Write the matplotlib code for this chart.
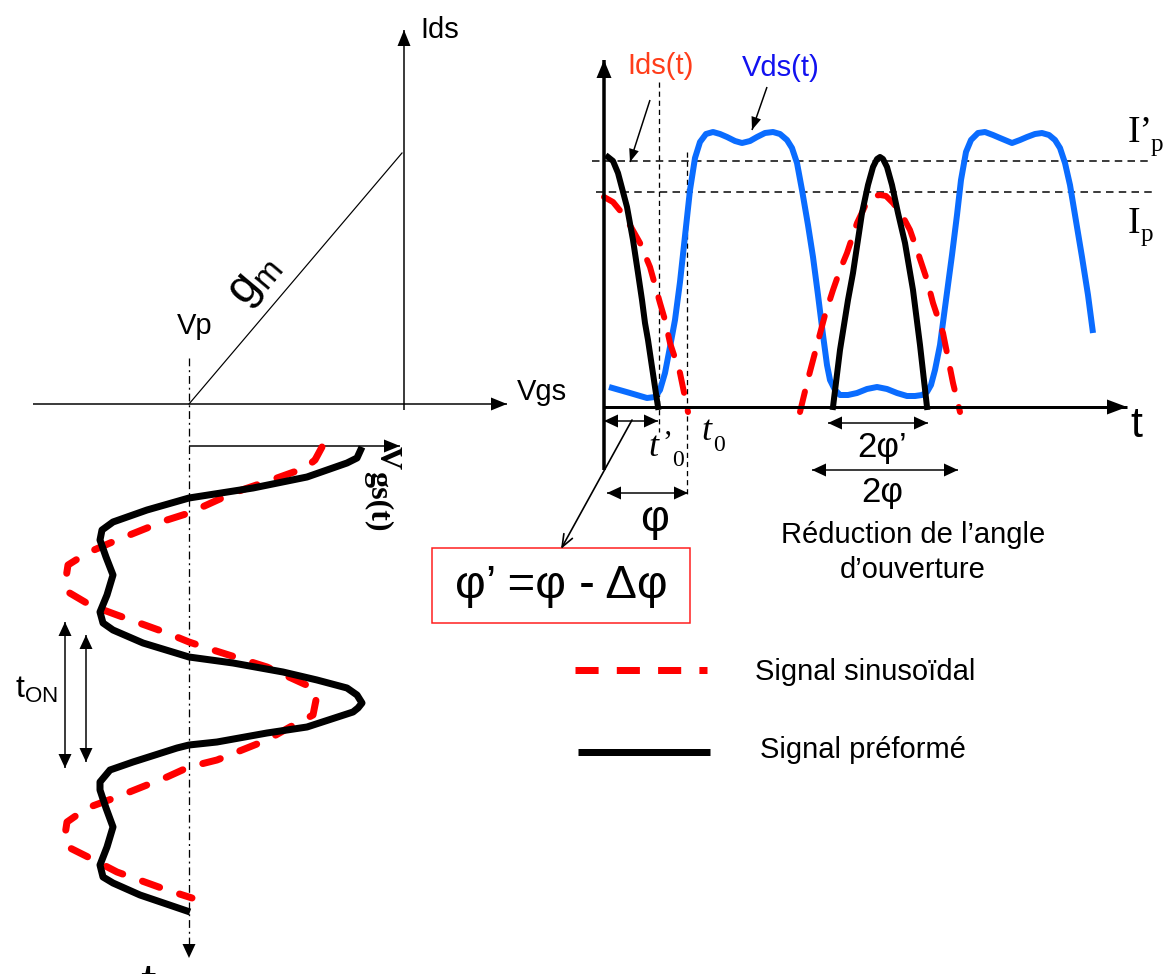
import matplotlib.pyplot as plt
import numpy as np

plt.rcParams['font.family'] = ['Liberation Sans', 'DejaVu Sans']
plt.rcParams['mathtext.fontset'] = 'custom'
plt.rcParams['mathtext.rm'] = 'Liberation Sans'
plt.rcParams['mathtext.it'] = 'Liberation Sans:italic'

# ---- left panel: Vgs(t), time running downwards (pixel coords of the picture)
vgs_pre_x = [362, 357, 347, 307, 253, 189, 147, 113, 102, 100, 106, 113, 107, 100, 103, 113, 143, 189,
             233, 283, 317, 347, 357, 362, 358, 353, 307, 267, 217, 189, 177, 133, 110, 100, 100, 106,
             113, 107, 100, 103, 113, 140, 190]
vgs_pre_y = [447, 458, 463, 477, 488, 498, 510, 522, 530, 540, 557, 575, 595, 612, 623, 630, 643, 657,
             663, 672, 680, 688, 695, 703, 708, 712, 727, 733, 742, 745, 748, 762, 770, 782, 790, 808,
             827, 847, 865, 877, 883, 895, 912]
vgs_sin_x = [322, 315, 305, 277, 233, 189, 167, 117, 87, 68, 66, 68, 90, 117, 167, 189, 213, 267, 313,
             316, 313, 290, 267, 217, 189, 167, 117, 87, 67, 65, 68, 90, 117, 167, 192]
vgs_sin_y = [447, 460, 468, 478, 493, 513, 520, 540, 553, 565, 578, 592, 605, 615, 633, 642, 650, 667, 688,
             700, 715, 727, 740, 760, 767, 777, 797, 808, 822, 835, 847, 858, 872, 890, 898]

# ---- right panel: Ids(t) preformed / sinusoidal, Vds(t)
ids_pre_a_x = [608, 613, 618, 627, 633, 638, 642, 645, 648, 652, 658]
ids_pre_a_y = [157, 161, 173, 207, 240, 273, 300, 323, 340, 367, 407]
ids_pre_b_x = [833, 840, 848, 853, 862, 868, 873, 877, 880, 883, 887, 892, 898, 905, 913, 920, 927]
ids_pre_b_y = [407, 350, 300, 273, 213, 185, 167, 159, 157, 159, 167, 185, 213, 243, 290, 345, 407]
ids_sin_a_x = [604, 613, 622, 631, 640, 650, 660, 665, 670, 680, 688]
ids_sin_a_y = [197, 202, 213, 227, 243, 267, 303, 320, 343, 373, 412]
ids_sin_b_x = [800, 807, 817, 825, 833, 840, 847, 857, 867, 874, 880, 886, 893, 902, 910, 918, 927,
               933, 943, 953, 960]
ids_sin_b_y = [412, 383, 345, 315, 290, 270, 253, 223, 202, 196, 195, 196, 203, 215, 230, 253, 280,
               303, 333, 383, 412]
vds_x = [609, 630, 647, 655, 660, 665, 670, 675, 680, 685, 690, 695, 700, 706, 713, 720, 727, 735, 742,
         750, 757, 765, 773, 780, 787, 792, 797, 802, 808, 813, 818, 823, 827, 830, 835, 840, 848, 857,
         867, 877, 887, 897, 907, 915, 922, 927, 931, 935, 940, 944, 948, 952, 957, 961, 966, 971, 978,
         985, 993, 1000, 1012, 1020, 1027, 1035, 1042, 1049, 1055, 1060, 1065, 1070, 1075, 1082, 1088, 1093]
vds_y = [387, 393, 398, 397, 390, 373, 347, 320, 282, 236, 190, 158, 142, 134, 132, 134, 137, 141, 143,
         141, 137, 133, 132, 134, 140, 148, 163, 190, 225, 257, 295, 335, 365, 380, 390, 395, 395, 393,
         389, 387, 389, 393, 396, 396, 395, 392, 385, 370, 345, 315, 285, 255, 215, 180, 152, 140, 133,
         132, 135, 138, 143, 140, 137, 134, 133, 135, 140, 148, 163, 185, 215, 257, 295, 333]

RED = '#ff0000'
BLUE = '#0a6cff'
px = 0.72  # pixel -> point at 100 dpi

fig = plt.figure(figsize=(11.66, 9.74), dpi=100)
ax = fig.add_axes([0, 0, 1, 1])
ax.set_xlim(0, 1166)
ax.set_ylim(974, 0)
ax.axis('off')


def head(x, y, ux, uy, L=14, W=12, color='k'):
    n = np.hypot(ux, uy)
    ux, uy = ux / n, uy / n
    bx, by = x - ux * L, y - uy * L
    nx, ny = -uy, ux
    ax.fill([x, bx + nx * W / 2, bx - nx * W / 2], [y, by + ny * W / 2, by - ny * W / 2],
            color=color, lw=0, zorder=5)


def arrow(x0, y0, x1, y1, both=False, lw=1.5, L=14, W=12, color='k', **kw):
    ax.plot([x0, x1], [y0, y1], color=color, lw=lw * px, solid_capstyle='butt', **kw)
    head(x1, y1, x1 - x0, y1 - y0, L, W, color)
    if both:
        head(x0, y0, x0 - x1, y0 - y1, L, W, color)


# transfer characteristic
arrow(33, 404, 507, 404, lw=1.5, L=16, W=13)
arrow(404, 410, 404, 30, lw=1.5, L=16, W=13)
ax.plot([189, 402], [404, 153], color='k', lw=1.2 * px)
ax.plot([189, 189], [358, 944], color='k', lw=1.3 * px, dashes=(6, 3, 1.5, 3))
head(189, 958, 0, 1, L=14, W=13)
arrow(189, 446, 400, 446, lw=1.5, L=16, W=13)

ax.text(420, 38, 'Ids', fontsize=21, va='baseline')
ax.text(517, 400, 'Vgs', fontsize=21, va='baseline')
ax.text(177, 334, 'Vp', fontsize=21, va='baseline')
ax.text(254, 280, r'$\mathrm{g_m}$', fontsize=34, rotation=50, rotation_mode='anchor',
        ha='center', va='center')
ax.text(387, 446, 'V', fontsize=23, family='Liberation Serif', weight='bold', rotation=-90,
        ha='center', va='top')
ax.text(378, 471, 'gs(t)', fontsize=23, family='Liberation Serif', weight='bold', rotation=-90,
        ha='center', va='top')
ax.text(36, 690, r'$\mathrm{t_{ON}}$', fontsize=23, ha='center', va='center')
ax.text(148, 961, 't', fontsize=40, ha='center', va='top')

ax.plot(vgs_sin_x, vgs_sin_y, color=RED, lw=7 * px, dashes=(2.6, 3.0), dash_capstyle='round',
        solid_joinstyle='round')
ax.plot(vgs_pre_x, vgs_pre_y, color='k', lw=7 * px, solid_joinstyle='round', solid_capstyle='butt')

arrow(65, 695, 65, 622, lw=1.5, L=14, W=13)
arrow(65, 695, 65, 768, lw=1.5, L=14, W=13)
arrow(86, 698, 86, 635, lw=1.5, L=14, W=13)
arrow(86, 698, 86, 762, lw=1.5, L=14, W=13)

# time domain panel
ax.plot([592, 1152], [161, 161], color='k', lw=1.5 * px, dashes=(5, 3.5))
ax.plot([596, 1155], [192, 192], color='k', lw=1.5 * px, dashes=(5, 3.5))
ax.plot([659, 659], [82, 432], color='k', lw=1.3 * px, dashes=(4, 3))
ax.plot([687, 687], [152, 497], color='k', lw=1.3 * px, dashes=(4, 3))

ax.plot(vds_x, vds_y, color=BLUE, lw=6 * px, solid_joinstyle='round', solid_capstyle='butt')
ax.plot(ids_sin_a_x, ids_sin_a_y, color=RED, lw=6 * px, dashes=(3.5, 3.0), dash_capstyle='round')
ax.plot(ids_sin_b_x, ids_sin_b_y, color=RED, lw=6 * px, dashes=(3.5, 3.0), dash_capstyle='round')
ax.plot(ids_pre_a_x, ids_pre_a_y, color='k', lw=6 * px, solid_joinstyle='round')
ax.plot(ids_pre_b_x, ids_pre_b_y, color='k', lw=6 * px, solid_joinstyle='round')

arrow(604, 470, 604, 60, lw=3.5, L=18, W=15)
arrow(604, 407, 1127, 407, lw=3, L=20, W=15)

ax.text(627, 74, 'Ids(t)', fontsize=21, color='#ff3d1a', va='baseline')
ax.text(742, 76, 'Vds(t)', fontsize=21, color='#1212f0', va='baseline')
arrow(650, 100, 630, 162, lw=1.5, L=13, W=10)
arrow(767, 87, 752, 130, lw=1.5, L=13, W=10)

ax.text(1128, 142, 'I’', fontsize=27, family='Liberation Serif', va='baseline')
ax.text(1151, 151, 'p', fontsize=18, family='Liberation Serif', va='baseline')
ax.text(1128, 233, 'I', fontsize=27, family='Liberation Serif', va='baseline')
ax.text(1141, 241, 'p', fontsize=18, family='Liberation Serif', va='baseline')
ax.text(1130, 437, 't', fontsize=31, va='baseline')

arrow(604, 421, 658, 421, both=True, lw=1.5, L=14, W=13)
ax.text(648, 456, 't', fontsize=26, family='Liberation Serif', style='italic', va='baseline')
ax.text(662, 452, '’', fontsize=22, family='Liberation Serif', va='baseline')
ax.text(672, 466, '0', fontsize=17, family='Liberation Serif', va='baseline')
ax.text(701, 440, 't', fontsize=26, family='Liberation Serif', style='italic', va='baseline')
ax.text(713, 451, '0', fontsize=17, family='Liberation Serif', va='baseline')

arrow(607, 493, 688, 493, both=True, lw=1.5, L=14, W=13)
ax.text(655, 520, 'φ', fontsize=32, ha='center', va='center')

arrow(828, 423, 928, 423, both=True, lw=1.5, L=14, W=13)
ax.text(882, 457, '2φ’', fontsize=25, ha='center', va='baseline')
arrow(812, 470, 958, 470, both=True, lw=1.5, L=14, W=13)
ax.text(882, 502, '2φ', fontsize=25, ha='center', va='baseline')
ax.text(913, 543, 'Réduction de l’angle', fontsize=21, ha='center', va='baseline')
ax.text(913, 578, 'd’ouverture', fontsize=21, ha='center', va='baseline')

ax.annotate('', xy=(561, 549), xytext=(632, 420),
            arrowprops=dict(arrowstyle='->,head_length=0.9,head_width=0.35', lw=1.2, color='k',
                            shrinkA=0, shrinkB=0))
ax.add_patch(plt.Rectangle((432, 548), 258, 75, fill=False, edgecolor='#ff1a1a', lw=1.5 * px))
ax.text(561, 586, 'φ’ =φ - Δφ', fontsize=34, ha='center', va='center')

# legend
ax.plot([575, 707], [670, 670], color=RED, lw=7 * px, dashes=(3.3, 2.6), dash_capstyle='butt')
ax.plot([578, 710], [752, 752], color='k', lw=7 * px, solid_capstyle='butt')
ax.text(755, 680, 'Signal sinusoïdal', fontsize=21, va='baseline')
ax.text(760, 758, 'Signal préformé', fontsize=21, va='baseline')

fig.savefig('out.png', dpi=100)
